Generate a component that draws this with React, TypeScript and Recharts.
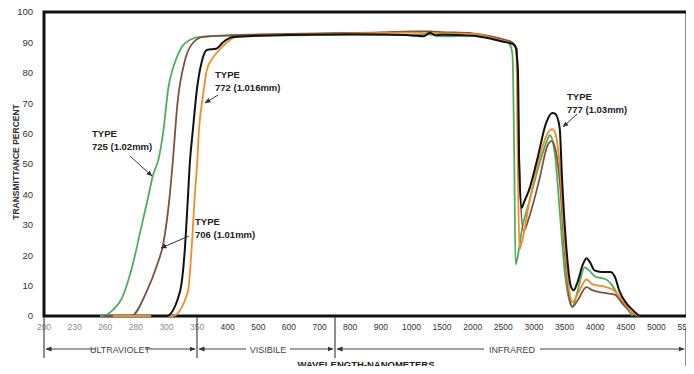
import { LineChart, Line, XAxis, YAxis, ReferenceArea } from 'recharts'

// wavelength scale of the original is hand-drawn: each tick label gets one equal step
const TICK_WL = [200, 230, 260, 280, 300, 350, 400, 500, 600, 700, 800, 900, 1000, 1500, 2000, 2500, 3000, 3500, 4000, 4500, 5000, 5500]
const Y_TICKS = [0, 10, 20, 30, 40, 50, 60, 70, 80, 90, 100]

// TYPE 725 (1.02mm)
const T725_WL = [255, 258, 265, 271, 278, 283, 288, 291, 295, 298, 303, 313, 325, 338, 355, 400, 600, 800, 1000, 1300, 1500, 2000, 2300, 2500, 2600, 2650, 2680, 2700, 2740, 2800, 2930, 3090, 3220, 3255, 3300, 3350, 3420, 3500, 3580, 3630, 3710, 3830, 3900, 4000, 4180, 4280, 4400, 4610]
const T725_T = [0, 0, 2, 6, 17, 28, 39, 46, 52, 61, 75, 83, 88.5, 90.8, 91.8, 92.2, 92.3, 92.5, 92.5, 92.6, 92, 92.2, 91.5, 90.5, 89.5, 86, 50, 17, 20, 28, 38, 50, 58, 59.5, 58, 52, 35, 15, 5, 3, 8, 16, 15, 13, 12, 10, 6, 0]

// TYPE 706 (1.01mm)
const T706_WL = [258, 277, 287, 294, 298, 305, 310, 318, 330, 343, 360, 400, 500, 700, 900, 1000, 1300, 1500, 2000, 2300, 2500, 2650, 2720, 2760, 2830, 2930, 3090, 3220, 3290, 3350, 3420, 3500, 3580, 3630, 3710, 3860, 3950, 4180, 4320, 4450, 4610, 4720]
const T706_T = [0, 0, 8, 17, 24, 39, 50, 70, 84, 89.8, 91.8, 92.3, 92.6, 93, 93.3, 93.6, 93.6, 93.4, 93, 92, 91, 90, 88, 50, 28, 33, 45, 56, 57.5, 55, 45, 22, 6, 3, 5, 9.5, 8.5, 7.5, 7, 4, 1, 0]

// TYPE 772 (1.016mm)
const T772_WL = [265, 310, 335, 341, 346, 350, 353, 360, 366, 376, 391, 407, 430, 600, 800, 1000, 1300, 1500, 2000, 2300, 2500, 2650, 2710, 2740, 2765, 2800, 2930, 3090, 3220, 3300, 3350, 3420, 3500, 3580, 3630, 3710, 3860, 3950, 4180, 4300, 4450, 4610, 4720]
const T772_T = [0, 0, 8, 22, 39, 50, 61, 73, 81, 85, 88.5, 90.8, 91.8, 92.5, 93, 93.2, 93, 93, 92.8, 91.6, 90.5, 89.5, 88, 45, 22, 24, 38, 52, 60, 61.5, 60, 50, 25, 8, 4.5, 7, 12, 10.5, 9.5, 8.5, 5, 1, 0]

// TYPE 777 (1.03mm)
const T777_WL = [290, 300, 322, 330, 335, 338, 343, 350, 358, 366, 382, 392, 417, 500, 600, 700, 800, 900, 1000, 1200, 1300, 1400, 1500, 2000, 2300, 2500, 2650, 2700, 2740, 2760, 2800, 2830, 2930, 3060, 3200, 3300, 3350, 3420, 3460, 3540, 3600, 3650, 3710, 3800, 3860, 3920, 3990, 4100, 4250, 4320, 4400, 4500, 4610, 4720]
const T777_T = [0, 0, 8, 22, 39, 50, 61, 75, 84, 87.5, 88, 90, 91.8, 92.2, 92.4, 92.6, 92.7, 92.6, 92.3, 92, 93.2, 92.3, 92.5, 92.2, 91.2, 90.2, 89.5, 88.5, 80, 50, 35.5, 37, 42, 52, 63.5, 66.8, 66.5, 62, 45, 20, 10, 8.5, 11, 17, 19, 17.5, 15, 14.5, 14.5, 13, 8, 4.5, 2, 0]

const FONT = '"Liberation Sans", Arial, Helvetica, sans-serif'

// wavelength -> position on the equal-step tick scale
function toPos(w: number) {
  for (let i = 0; i < TICK_WL.length - 1; i++) {
    const a = TICK_WL[i]
    const b = TICK_WL[i + 1]
    if (w <= b) return i + (w - a) / (b - a)
  }
  return TICK_WL.length - 1
}

const series = (wl: number[], t: number[]) => wl.map((w, i) => ({ pos: toPos(w), t: t[i] }))

const XTick = ({ x, y, payload }: any) => {
  const i = payload.value
  return (
    <text x={x} y={y} dy="0.71em" textAnchor="middle" fontSize={8.5} fontFamily={FONT} fill={i <= 5 ? '#8a8a8a' : '#333'}>
      {TICK_WL[i]}
    </text>
  )
}

const Note = ({ x, y, label }: { x: number; y: number; label: string }) => (
  <g fontFamily={FONT} fontWeight="bold" fontSize={9.5} fill="#222">
    <text x={x} y={y}>TYPE</text>
    <text x={x} y={y + 12.5}>{label}</text>
  </g>
)

export default function App() {
  const ticks = TICK_WL.map((_, i) => i)
  return (
    <div style={{ position: 'relative', width: 694, height: 374, margin: -8, background: '#fff' }}>
      <LineChart width={694} height={374} margin={{ top: 12, right: 7, bottom: 38, left: 0 }}>
        <XAxis type="number" dataKey="pos" domain={[0, TICK_WL.length - 1]} ticks={ticks} interval={0}
          axisLine={false} tickLine={false} tickSize={4} tickMargin={4} height={20} tick={<XTick />} />
        <YAxis type="number" domain={[0, 100]} ticks={Y_TICKS} width={44} axisLine={false} tickLine={false}
          tickSize={6} tickMargin={5} tick={{ fontSize: 9.5, fill: '#333', fontFamily: FONT }} />
        <Line data={series(T725_WL, T725_T)} dataKey="t" type="monotone" stroke="#4fae5e" strokeWidth={1.8} dot={false} isAnimationActive={false} />
        <Line data={series(T706_WL, T706_T)} dataKey="t" type="monotone" stroke="#7b5342" strokeWidth={1.8} dot={false} isAnimationActive={false} />
        <Line data={series(T772_WL, T772_T)} dataKey="t" type="monotone" stroke="#f28c28" strokeWidth={1.8} dot={false} isAnimationActive={false} />
        <Line data={series(T777_WL, T777_T)} dataKey="t" type="monotone" stroke="#111" strokeWidth={2} dot={false} isAnimationActive={false} />
        <ReferenceArea x1={0} x2={TICK_WL.length - 1} y1={0} y2={100} fill="none" stroke="#111" strokeWidth={3} ifOverflow="visible" />
      </LineChart>
      <svg width={694} height={374} style={{ position: 'absolute', left: 0, top: 0, pointerEvents: 'none' }}>
        <defs>
          <marker id="ah" markerWidth="6" markerHeight="6" refX="5.5" refY="3" orient="auto" markerUnits="userSpaceOnUse">
            <path d="M0,0.5 L6,3 L0,5.5 z" fill="#333" />
          </marker>
        </defs>
        <text x={366} y={5} textAnchor="middle" fontFamily={FONT} fontWeight="bold" fontSize={12} fill="#222">BOROSILICATES</text>
        <text transform="translate(19,162) rotate(-90)" textAnchor="middle" fontFamily={FONT} fontWeight="bold" fontSize={8.5} fill="#333">TRANSMITTANCE PERCENT</text>
        <text x={366} y={368} textAnchor="middle" fontFamily={FONT} fontWeight="bold" fontSize={9.5} fill="#222">WAVELENGTH-NANOMETERS</text>

        <g stroke="#444" strokeWidth={1.2}>
          <line x1={44} y1={317} x2={44} y2={358} />
          <line x1={197} y1={317} x2={197} y2={358} />
          <line x1={335} y1={317} x2={335} y2={358} />
          <line x1={686} y1={328} x2={686} y2={366} />
          <line x1={95} y1={349} x2={46} y2={349} markerEnd="url(#ah)" />
          <line x1={145} y1={349} x2={195} y2={349} markerEnd="url(#ah)" />
          <line x1={246} y1={349} x2={199} y2={349} markerEnd="url(#ah)" />
          <line x1={290} y1={349} x2={333} y2={349} markerEnd="url(#ah)" />
          <line x1={484} y1={349} x2={337} y2={349} markerEnd="url(#ah)" />
          <line x1={540} y1={349} x2={684} y2={349} markerEnd="url(#ah)" />
        </g>
        <g fontFamily={FONT} fontSize={9} fill="#444" textAnchor="middle">
          <text x={120} y={352.5}>ULTRAVIOLET</text>
          <text x={268} y={352.5}>VISIBILE</text>
          <text x={512} y={352.5}>INFRARED</text>
        </g>

        <Note x={92} y={137} label="725 (1.02mm)" />
        <Note x={215} y={78} label="772 (1.016mm)" />
        <Note x={195} y={225} label="706 (1.01mm)" />
        <Note x={567} y={100} label="777 (1.03mm)" />
        <g stroke="#333" strokeWidth={1}>
          <line x1={130} y1={156} x2={152} y2={176} markerEnd="url(#ah)" />
          <line x1={218} y1={95} x2={205} y2={103} markerEnd="url(#ah)" />
          <line x1={189} y1={236} x2={161} y2={248} markerEnd="url(#ah)" />
          <line x1={577} y1={114} x2={563} y2={127} markerEnd="url(#ah)" />
        </g>
      </svg>
    </div>
  )
}
